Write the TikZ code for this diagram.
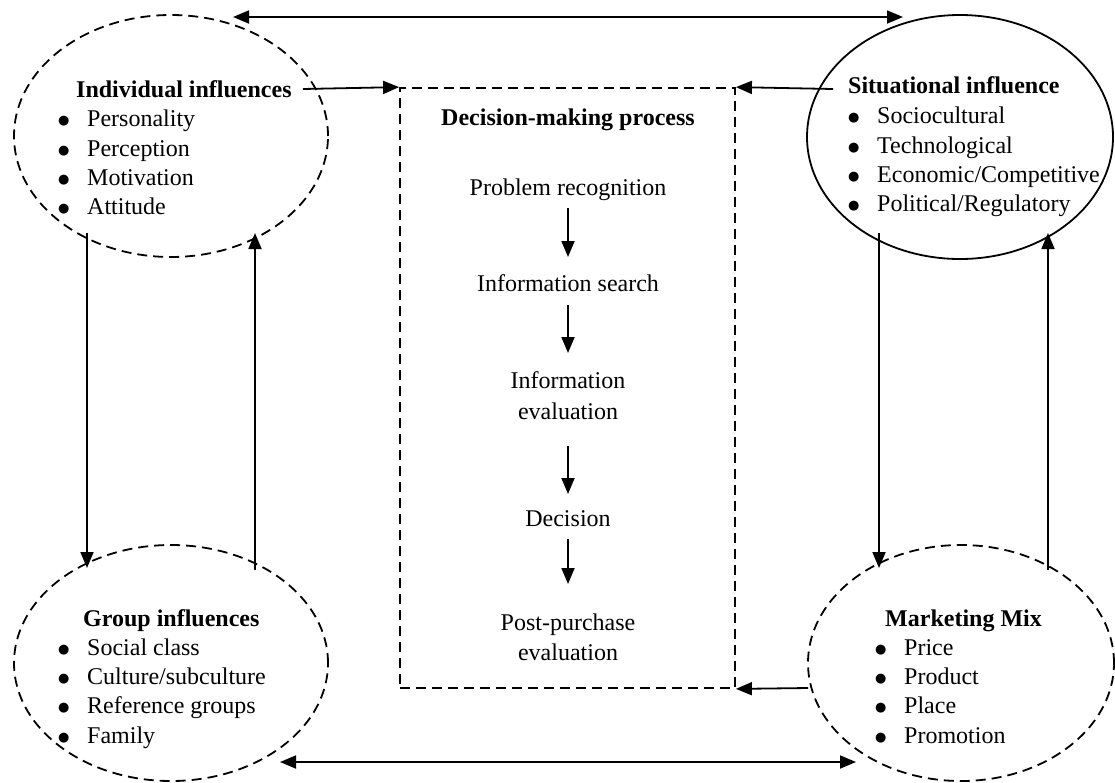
\documentclass[tikz,border=0pt]{standalone}
\usepackage{fontspec}
\setmainfont{Liberation Serif}
\newfontfamily\dvsans{DejaVu Sans}
\usetikzlibrary{arrows.meta,shapes.geometric}
\begin{document}
\begin{tikzpicture}[x=1pt,y=-1pt,
  every node/.style={font=\fontsize{24}{29}\selectfont, inner sep=0pt},
  oval/.style={ellipse, draw, line width=1.8pt},
  dsh/.style={dash pattern=on 10pt off 6pt},
  arr/.style={line width=1.8pt, -{Triangle[length=16pt,width=13pt]}},
  darr/.style={line width=1.8pt, {Triangle[length=16pt,width=13pt]}-{Triangle[length=16pt,width=13pt]}},
  ttl/.style={anchor=base west, font=\fontsize{24}{29}\selectfont\bfseries},
  itm/.style={anchor=base west},
  stp/.style={anchor=base}]
\useasboundingbox (0,0) rectangle (1115,782);

% ovals
\node[oval, dsh, minimum width=314pt, minimum height=242pt] (ind) at (171,136) {};
\node[oval, minimum width=306pt, minimum height=244pt] (sit) at (960,137) {};
\node[oval, dsh, minimum width=314pt, minimum height=236pt] (grp) at (171,663) {};
\node[oval, dsh, minimum width=306pt, minimum height=236pt] (mkt) at (961,663) {};

% central box
\node[draw, dsh, line width=1.8pt, minimum width=335pt, minimum height=600pt] (dmp) at (567.5,388) {};

\newcommand{\bul}{\makebox[29pt][l]{\raisebox{2pt}{\dvsans\fontsize{13}{13}\selectfont ●}}}

% individual
\node[ttl] (indT) at (76,97) {Individual influences};
\node[itm] (ind1) at (58,126) {\bul Personality};
\node[itm] (ind2) at (58,156) {\bul Perception};
\node[itm] (ind3) at (58,185) {\bul Motivation};
\node[itm] (ind4) at (58,214) {\bul Attitude};

% situational
\node[ttl] (sitT) at (848,93) {Situational influence};
\node[itm] (sit1) at (848,123) {\bul Sociocultural};
\node[itm] (sit2) at (848,153) {\bul Technological};
\node[itm] (sit3) at (848,182) {\bul Economic/Competitive};
\node[itm] (sit4) at (848,211) {\bul Political/Regulatory};

% group
\node[ttl] (grpT) at (83,626) {Group influences};
\node[itm] (grp1) at (58,655) {\bul Social class};
\node[itm] (grp2) at (58,684) {\bul Culture/subculture};
\node[itm] (grp3) at (58,713) {\bul Reference groups};
\node[itm] (grp4) at (58,743) {\bul Family};

% marketing
\node[ttl] (mktT) at (885,626) {Marketing Mix};
\node[itm] (mkt1) at (875,655) {\bul Price};
\node[itm] (mkt2) at (875,684) {\bul Product};
\node[itm] (mkt3) at (875,713) {\bul Place};
\node[itm] (mkt4) at (875,743) {\bul Promotion};

% decision process
\node[stp, font=\fontsize{24}{29}\selectfont\bfseries] (dT) at (568,125) {Decision-making process};
\node[stp] (s1) at (568,195) {Problem recognition};
\node[stp] (s2) at (568,291) {Information search};
\node[stp] (s3a) at (568,388) {Information};
\node[stp] (s3b) at (568,419) {evaluation};
\node[stp] (s4) at (568,526) {Decision};
\node[stp] (s5a) at (568,630) {Post-purchase};
\node[stp] (s5b) at (568,660) {evaluation};

\coordinate (a1s) at (568,208); \coordinate (a1e) at (568,257);
\coordinate (a2s) at (568,305); \coordinate (a2e) at (568,353);
\coordinate (a3s) at (568,446); \coordinate (a3e) at (568,494);
\coordinate (a4s) at (568,539); \coordinate (a4e) at (568,584);
\draw[arr] (a1s) -- (a1e);
\draw[arr] (a2s) -- (a2e);
\draw[arr] (a3s) -- (a3e);
\draw[arr] (a4s) -- (a4e);

% connectors to the box
\coordinate (iOut) at (303,89);
\draw[arr] (iOut) -- (dmp.north west);
\coordinate (sOut) at (833,89);
\draw[arr] (sOut) -- (dmp.north east);
\coordinate (mOut) at (808,688);
\draw[arr] (mOut) -- (dmp.south east);

% top and bottom double arrows
\coordinate (tL) at (233,17); \coordinate (tR) at (903,17);
\draw[darr] (tL) -- (tR);
\coordinate (bL) at (280,762); \coordinate (bR) at (856,762);
\draw[darr] (bL) -- (bR);

% verticals
\coordinate (lv1a) at (87,233); \coordinate (lv1b) at (87,568);
\draw[arr] (lv1a) -- (lv1b);
\coordinate (lv2a) at (255,570); \coordinate (lv2b) at (255,233);
\draw[arr] (lv2a) -- (lv2b);
\coordinate (rv1a) at (879,233); \coordinate (rv1b) at (879,568);
\draw[arr] (rv1a) -- (rv1b);
\coordinate (rv2a) at (1048,570); \coordinate (rv2b) at (1048,233);
\draw[arr] (rv2a) -- (rv2b);
\end{tikzpicture}
\end{document}
